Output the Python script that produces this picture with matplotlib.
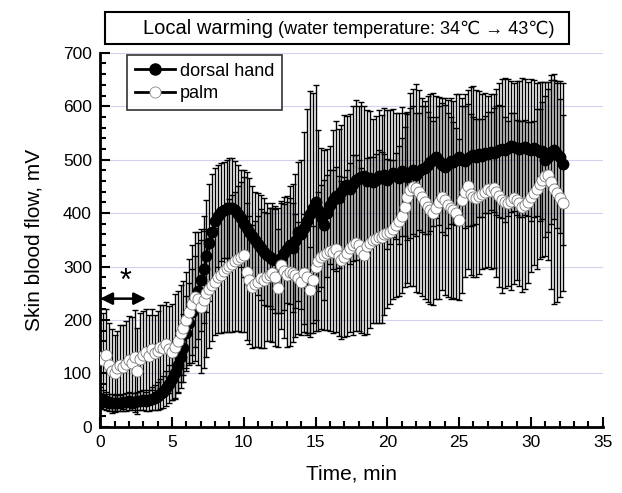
import numpy as np
import matplotlib
matplotlib.use('Agg')
import matplotlib.pyplot as plt
from matplotlib.patches import Rectangle
from matplotlib.ticker import MultipleLocator

plt.rcParams['font.family'] = ['Liberation Sans', 'DejaVu Sans']

# sampling every 0.2 min, 0 .. 32.2
time_min = np.round(np.arange(162) * 0.2, 1)

dorsal_mean = [
    55, 52, 48, 46, 45, 44, 45, 44, 46, 47,
    48, 47, 46, 48, 49, 50, 48, 50, 53, 55,
    58, 62, 66, 72, 80, 90, 100, 115, 130, 148,
    175, 195, 215, 235, 255, 275, 295, 320, 345, 365,
    385, 395, 402, 406, 408, 410, 409, 405, 398, 390,
    380, 372, 365, 358, 350, 342, 335, 328, 322, 318,
    315, 313, 312, 316, 325, 332, 340, 335, 348, 365,
    360, 372, 385, 398, 410, 420, 405, 392, 378, 400,
    415, 425, 432, 428, 440, 448, 452, 445, 455, 462,
    465, 468, 470, 460, 466, 458, 462, 470, 465, 472,
    462, 468, 475, 470, 465, 478, 472, 468, 475, 480,
    472, 478, 482, 485, 490, 495, 500, 505, 498, 490,
    487, 492, 498, 495, 500, 505, 500, 498, 503, 506,
    508, 505, 510, 507, 512, 510, 514, 512, 515, 518,
    520, 518, 522, 525, 524, 522, 520, 522, 524, 520,
    518, 521, 519, 515, 517, 500, 505, 514, 519, 510,
    505, 492]

dorsal_sd = [
    20, 18, 17, 16, 16, 15, 16, 15, 16, 17,
    17, 16, 18, 17, 18, 19, 18, 20, 22, 24,
    26, 28, 30, 32, 36, 40, 46, 52, 58, 64,
    70, 75, 80, 85, 90, 95, 100, 105, 110, 108,
    100, 95, 92, 90, 92, 94, 95, 93, 92, 90,
    100, 104, 100, 92, 90, 96, 98, 100, 96, 92,
    95, 100, 98, 102, 106, 100, 110, 120, 125, 130,
    140, 180, 210, 230, 215, 220, 150, 130, 140, 120,
    110, 130, 140, 130, 125, 135, 130, 140, 145, 150,
    135, 140, 130, 132, 125, 118, 120, 122, 118, 125,
    130, 125, 120, 118, 122, 120, 115, 118, 122, 120,
    115, 110, 118, 125, 130, 128, 125, 115, 120, 125,
    128, 120, 118, 115, 122, 118, 115, 125, 128, 130,
    130, 125, 118, 115, 112, 110, 108, 110, 118, 125,
    130, 135, 128, 122, 120, 125, 128, 130, 127, 125,
    132, 128, 125, 130, 128, 145, 140, 135, 130, 138,
    142, 152]

palm_mean = [
    130, 125, 135, 115, 105, 100, 110, 115, 112, 118,
    125, 120, 130, 105, 128, 135, 140, 132, 145, 138,
    142, 150, 148, 155, 145, 140, 150, 160, 175, 185,
    200, 215, 230, 244, 240, 225, 238, 250, 258, 265,
    272, 280, 285, 292, 298, 302, 305, 310, 315, 318,
    322, 290, 275, 262, 268, 272, 278, 275, 280, 285,
    288, 280, 260, 303, 292, 285, 290, 288, 284, 278,
    272, 288, 280, 256, 275, 300, 310, 318, 322, 326,
    330, 328, 332, 320, 313, 318, 325, 335, 340, 344,
    340, 330, 322, 338, 345, 350, 352, 356, 355, 360,
    362, 365, 370, 378, 385, 395, 412, 430, 444, 448,
    447, 440, 430, 420, 412, 405, 400, 410, 420, 431,
    425, 415, 410, 406, 400, 388, 425, 440, 450, 435,
    430, 428, 432, 436, 440, 445, 442, 447, 440, 432,
    425, 420, 418, 422, 428, 425, 418, 412, 416, 420,
    430, 438, 445, 455, 462, 470, 472, 458, 445, 438,
    428, 419]

palm_sd = [
    90, 88, 85, 80, 78, 72, 70, 75, 78, 80,
    82, 85, 88, 80, 85, 82, 80, 78, 75, 72,
    75, 78, 80, 78, 82, 90, 98, 95, 90, 88,
    90, 100, 110, 120, 125, 125, 128, 120, 110, 105,
    100, 105, 110, 115, 120, 125, 128, 130, 135, 140,
    145, 128, 120, 115, 118, 122, 130, 128, 120, 125,
    130, 128, 110, 120, 125, 135, 138, 130, 115, 105,
    100, 110, 108, 80, 100, 120, 130, 135, 140, 145,
    150, 152, 155, 150, 148, 150, 155, 158, 168, 165,
    160, 155, 150, 165, 160, 155, 158, 162, 160, 150,
    140, 135, 130, 135, 140, 145, 150, 160, 180, 185,
    195, 190, 185, 180, 178, 175, 172, 170, 180, 175,
    178, 172, 170, 165, 160, 150, 175, 160, 155, 150,
    150, 148, 145, 140, 142, 145, 147, 150, 160, 170,
    175, 160, 155, 165, 160, 150, 155, 160, 158, 150,
    140, 135, 150, 140, 145, 150, 160, 200, 215, 205,
    185, 165]

fig = plt.figure(figsize=(6.22, 4.93), dpi=100)
ax = fig.add_axes([0.161, 0.134, 0.808, 0.759])

ax.errorbar(time_min, dorsal_mean, yerr=dorsal_sd, fmt='none', ecolor='black',
            elinewidth=1.0, capsize=2.5, capthick=1.0, zorder=2)
ax.errorbar(time_min, palm_mean, yerr=palm_sd, fmt='none', ecolor='black',
            elinewidth=1.0, capsize=2.5, capthick=1.0, zorder=2)
ax.plot(time_min, dorsal_mean, '-o', color='black', lw=1.5, ms=7.5,
        mfc='black', mec='black', zorder=4)
# palm: markers only in the plot, the connecting line is hidden by them
ax.plot(time_min, palm_mean, 'o', ms=8, mfc='white', mec='#777777',
        mew=0.6, zorder=5)

# legend handles
h_dorsal, = ax.plot([], [], '-o', color='black', lw=2, ms=8, mfc='black')
h_palm, = ax.plot([], [], '-o', color='black', lw=2, ms=8, mfc='white',
                  mec='#888888', mew=0.6)

ax.set_xlim(0, 35)
ax.set_ylim(0, 700)
ax.xaxis.set_major_locator(MultipleLocator(5))
ax.xaxis.set_minor_locator(MultipleLocator(1))
ax.yaxis.set_major_locator(MultipleLocator(100))
ax.yaxis.set_minor_locator(MultipleLocator(20))
ax.tick_params(which='both', direction='in', width=1.5, labelsize=12.5)
ax.tick_params(which='major', length=7, pad=6)
ax.tick_params(which='minor', length=4)
ax.grid(axis='y', color='#d2d2ee', lw=0.8)
ax.set_axisbelow(True)
for s in ['top', 'right']:
    ax.spines[s].set_visible(False)
for s in ['left', 'bottom']:
    ax.spines[s].set_linewidth(2)

ax.set_xlabel('Time, min', fontsize=15, labelpad=10)
ax.set_ylabel('Skin blood flow, mV', fontsize=15, labelpad=14)

leg = ax.legend([h_dorsal, h_palm], ['dorsal hand', 'palm'], loc='upper left',
                fontsize=13, bbox_to_anchor=(0.054, 0.995), borderaxespad=0,
                frameon=True, fancybox=False, edgecolor='black',
                handlelength=2.2, borderpad=0.45, labelspacing=0.3,
                handletextpad=0.25)
leg.get_frame().set_linewidth(1.2)

# star + double arrow marking 0-3 min
ax.annotate('', xy=(0, 240), xytext=(3.2, 240),
            arrowprops=dict(arrowstyle='<|-|>', color='black', lw=1.8,
                            mutation_scale=18, shrinkA=0, shrinkB=0))
ax.text(1.75, 243, '*', fontsize=22, ha='center', va='bottom')

# title box
fig.patches.append(Rectangle((105 / 622, 1 - 44 / 493), 464 / 622, 32 / 493,
                             transform=fig.transFigure, fill=False,
                             edgecolor='black', lw=1.5))
fig.text(143 / 622, 1 - 28 / 493, 'Local warming', fontsize=14.5, va='center')
fig.text(278 / 622, 1 - 29 / 493, '(water temperature: 34℃ → 43℃)',
         fontsize=13, va='center')

plt.savefig('out.png', dpi=100)
